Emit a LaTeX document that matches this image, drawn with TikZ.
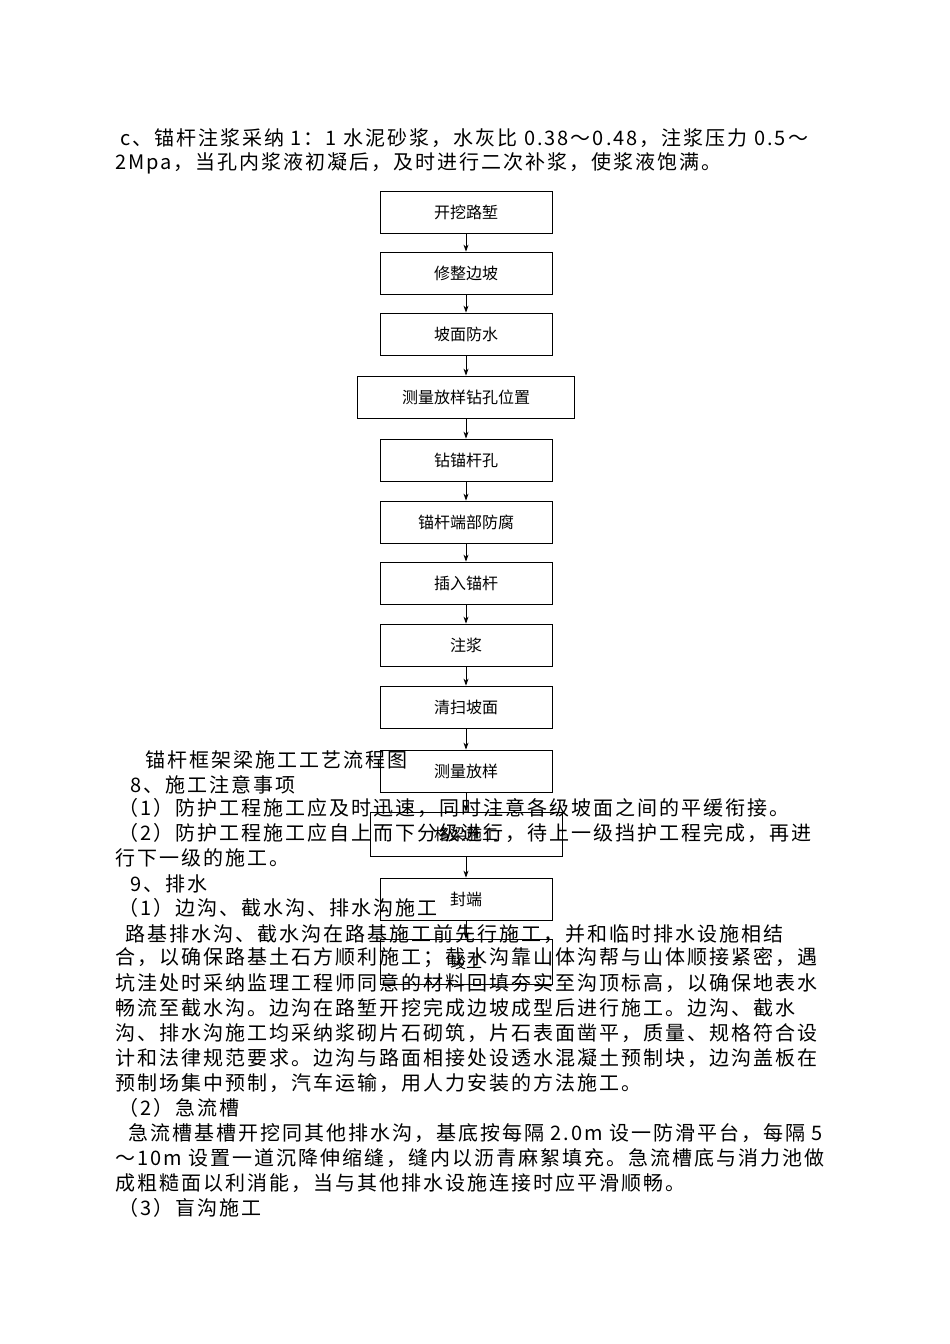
\documentclass[tikz,border=0pt]{standalone}
\usepackage{fontspec}
\setmainfont{Liberation Serif}
\newfontfamily\cjk[LetterSpace=10]{Noto Sans CJK SC}
\newfontfamily\cjkb{Noto Sans CJK SC}
\usetikzlibrary{arrows.meta}
\begin{document}
\begin{tikzpicture}[x=1pt,y=-1pt,
  stepbox/.style={draw,thick,minimum height=42pt,font=\cjkb\fontsize{16}{18}\selectfont},
  ln/.style={anchor=west,inner sep=0pt,font=\cjk\fontsize{20}{24}\selectfont},
  arr/.style={-{Stealth[length=7pt,width=5pt]},thick}]
\useasboundingbox (0,0) rectangle (950,1344);
\fill[white] (0,0) rectangle (950,1344);
\node[ln] (t1) at (120,138) {c、锚杆注浆采纳 1：1 水泥砂浆，水灰比 0.38～0.48，注浆压力 0.5～};
\node[ln] (t2) at (115,163) {2Mpa，当孔内浆液初凝后，及时进行二次补浆，使浆液饱满。};
\node[stepbox,minimum width=172pt] (b1) at (466,212) {开挖路堑};
\node[stepbox,minimum width=172pt] (b2) at (466,273) {修整边坡};
\node[stepbox,minimum width=172pt] (b3) at (466,334) {坡面防水};
\node[stepbox,minimum width=217pt] (b4) at (466,397) {测量放样钻孔位置};
\node[stepbox,minimum width=172pt] (b5) at (466,460) {钻锚杆孔};
\node[stepbox,minimum width=172pt] (b6) at (466,522) {锚杆端部防腐};
\node[stepbox,minimum width=172pt] (b7) at (466,583) {插入锚杆};
\node[stepbox,minimum width=172pt] (b8) at (466,645) {注浆};
\node[stepbox,minimum width=172pt] (b9) at (466,707) {清扫坡面};
\node[stepbox,minimum width=172pt] (b10) at (466,771) {测量放样};
\node[stepbox,minimum width=192pt,minimum height=44pt] (b11) at (466,834) {格梁施工};
\node[stepbox,minimum width=172pt] (b12) at (466,899) {封端};
\node[stepbox,minimum width=172pt,minimum height=45pt] (b13) at (466,962) {竣工};
\foreach \a/\b in {b1/b2,b2/b3,b3/b4,b4/b5,b5/b6,b6/b7,b7/b8,b8/b9,b9/b10,b10/b11,b11/b12,b12/b13}
  \draw[arr] (\a) -- (\b);
\node[ln] (l1) at (145,760) {锚杆框架梁施工工艺流程图};
\node[ln] (l2) at (130,785) {8、施工注意事项};
\node[ln] (l3) at (118,808) {（1）防护工程施工应及时迅速，同时注意各级坡面之间的平缓衔接。};
\node[ln] (l4) at (118,833) {（2）防护工程施工应自上而下分级进行，待上一级挡护工程完成，再进};
\node[ln] (l5) at (115,858) {行下一级的施工。};
\node[ln] (l6) at (130,884) {9、排水};
\node[ln] (l7) at (118,908) {（1）边沟、截水沟、排水沟施工};
\node[ln] (l8) at (125,934) {路基排水沟、截水沟在路基施工前先行施工，并和临时排水设施相结};
\node[ln] (l9) at (115,958) {合，以确保路基土石方顺利施工；截水沟靠山体沟帮与山体顺接紧密，遇};
\node[ln] (l10) at (115,983) {坑洼处时采纳监理工程师同意的材料回填夯实至沟顶标高，以确保地表水};
\node[ln] (l11) at (115,1008) {畅流至截水沟。边沟在路堑开挖完成边坡成型后进行施工。边沟、截水};
\node[ln] (l12) at (115,1033) {沟、排水沟施工均采纳浆砌片石砌筑，片石表面凿平，质量、规格符合设};
\node[ln] (l13) at (115,1058) {计和法律规范要求。边沟与路面相接处设透水混凝土预制块，边沟盖板在};
\node[ln] (l14) at (115,1083) {预制场集中预制，汽车运输，用人力安装的方法施工。};
\node[ln] (l15) at (118,1108) {（2）急流槽};
\node[ln] (l16) at (128,1133) {急流槽基槽开挖同其他排水沟，基底按每隔 2.0m 设一防滑平台，每隔 5};
\node[ln] (l17) at (115,1158) {～10m 设置一道沉降伸缩缝，缝内以沥青麻絮填充。急流槽底与消力池做};
\node[ln] (l18) at (115,1183) {成粗糙面以利消能，当与其他排水设施连接时应平滑顺畅。};
\node[ln] (l19) at (118,1208) {（3）盲沟施工};
\end{tikzpicture}
\end{document}
